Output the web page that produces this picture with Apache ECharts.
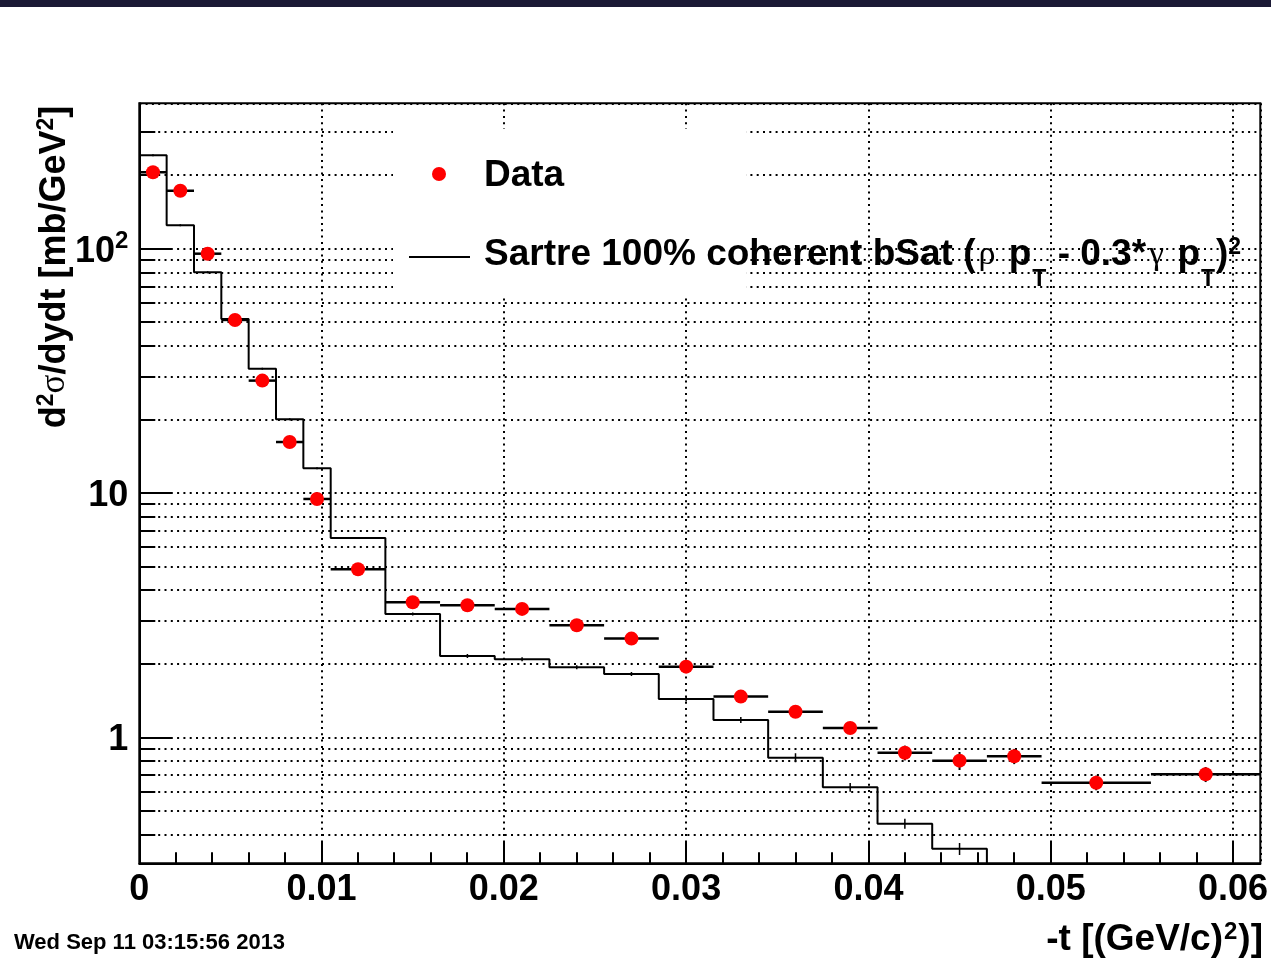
<!DOCTYPE html>
<html>
<head>
<meta charset="utf-8">
<script src="https://cdn.jsdelivr.net/npm/echarts@6/dist/echarts.min.js"></script>
<style>
  html, body { margin: 0; padding: 0; background: #fff; }
  #chart { width: 1271px; height: 958px; }
</style>
</head>
<body>
<div id="chart"></div>
<script>
// -t bin edges [(GeV/c)^2]
const binEdges = [0, 0.0015, 0.003, 0.0045, 0.006, 0.0075, 0.009, 0.0105, 0.0135, 0.0165, 0.0195,
  0.0225, 0.0255, 0.0285, 0.0315, 0.0345, 0.0375, 0.0405, 0.0435, 0.0465, 0.0495, 0.0555, 0.0615];

// measured d2sigma/dydt [mb/GeV^2] per bin
const dataValues = [206, 173, 95.6, 51.2, 28.9, 16.2, 9.47, 4.88, 3.58, 3.48, 3.36, 2.88, 2.54,
  1.95, 1.47, 1.275, 1.094, 0.866, 0.804, 0.838, 0.653, 0.707];
const dataErrors = [5.2, 4.3, 2.4, 1.3, 0.72, 0.4, 0.24, 0.12, 0.09, 0.087, 0.084, 0.072, 0.064,
  0.049, 0.06, 0.05, 0.045, 0.06, 0.068, 0.06, 0.045, 0.05];

// Sartre 100% coherent bSat prediction per bin (same binning)
const sartreValues = [242, 125, 80.2, 51.6, 32.3, 20.1, 12.65, 6.55, 3.20, 2.156, 2.09, 1.938,
  1.82, 1.438, 1.179, 0.827, 0.625, 0.444, 0.350, 0.27];
const sartreErrors = [2.3, 1.2, 0.75, 0.5, 0.3, 0.19, 0.12, 0.06, 0.045, 0.04, 0.04, 0.037,
  0.035, 0.034, 0.033, 0.035, 0.026, 0.021, 0.02, 0.02];

// minor tick positions
const xMinorTicks = [0.002, 0.004, 0.006, 0.008, 0.012, 0.014, 0.016, 0.018, 0.022, 0.024, 0.026,
  0.028, 0.032, 0.034, 0.036, 0.038, 0.042, 0.044, 0.046, 0.048, 0.052, 0.054, 0.056, 0.058];
const yMinorTicks = [0.4, 0.5, 0.6, 0.7, 0.8, 0.9, 2, 3, 4, 5, 6, 7, 8, 9,
  20, 30, 40, 50, 60, 70, 80, 90, 200, 300];

const X_MIN = 0, X_MAX = 0.0615;
const Y_MIN = 0.3055, Y_MAX = 394.5;

const FONT = '"Liberation Sans", Arial, Helvetica, sans-serif';
const GREEK = '"Liberation Serif", "DejaVu Serif", serif';

const binLo = binEdges.slice(0, -1);
const binHi = binEdges.slice(1);
const binMid = binLo.map((lo, i) => (lo + binHi[i]) / 2);

// step outline: each bin's left edge, plus the closing right edge
const sartreStep = sartreValues.map((v, i) => [binLo[i], v]);
sartreStep.push([binHi[sartreValues.length - 1], sartreValues[sartreValues.length - 1]]);

const chart = echarts.init(document.getElementById('chart'), null, { renderer: 'canvas' });

const dotted = { color: '#000', width: 2, type: [2, 4.3] };

const option = {
  backgroundColor: '#fff',
  animation: false,
  grid: {
    left: 139.3, top: 103.3, width: 1121.2, height: 760,
    show: true, borderColor: '#000', borderWidth: 2, backgroundColor: 'transparent'
  },
  xAxis: {
    type: 'value', min: X_MIN, max: X_MAX, interval: 0.01,
    axisLine: { show: true, onZero: false, lineStyle: { color: '#000', width: 2 } },
    axisTick: { show: true, inside: true, length: 22, lineStyle: { color: '#000', width: 2 } },
    axisLabel: {
      show: true, margin: 9, color: '#000', fontFamily: FONT, fontWeight: 'bold', fontSize: 36,
      showMaxLabel: false,
      formatter: v => (v === 0 ? '0' : v.toFixed(2))
    },
    splitLine: { show: true, lineStyle: dotted }
  },
  yAxis: {
    type: 'log', logBase: 10, min: Y_MIN, max: Y_MAX,
    axisLine: { show: true, onZero: false, lineStyle: { color: '#000', width: 2 } },
    axisTick: { show: true, inside: true, length: 32, lineStyle: { color: '#000', width: 2 } },
    axisLabel: {
      show: true, margin: 11, color: '#000', fontFamily: FONT, fontWeight: 'bold', fontSize: 36,
      showMinLabel: false, showMaxLabel: false,
      formatter: v => {
        const e = Math.round(Math.log10(v));
        if (e >= 2) return '{b|10}{s|' + e + '}';
        return '{b|' + Math.round(v) + '}';
      },
      rich: {
        b: { fontFamily: FONT, fontWeight: 'bold', fontSize: 36, lineHeight: 40, color: '#000', padding: [6, 0, 0, 0] },
        s: { fontFamily: FONT, fontWeight: 'bold', fontSize: 24, lineHeight: 24, color: '#000', padding: [0, 0, 16, 0] }
      }
    },
    splitLine: { show: true, lineStyle: dotted }
  },
  series: [
    {
      // dotted grid and short ticks at the log minor divisions
      type: 'custom', name: 'yMinor', z: 1, silent: true,
      data: yMinorTicks.map(v => [X_MIN, v]),
      renderItem: (params, api) => {
        const p = api.coord([X_MIN, api.value(1)]);
        const y = Math.round(p[1]);
        const cs = params.coordSys;
        return {
          type: 'group', children: [
            { type: 'line', shape: { x1: cs.x, y1: y, x2: cs.x + cs.width, y2: y },
              style: { stroke: '#000', lineWidth: 2, lineDash: [2, 4.3] } },
            { type: 'line', shape: { x1: cs.x, y1: y, x2: cs.x + 16, y2: y },
              style: { stroke: '#000', lineWidth: 2 } }
          ]
        };
      }
    },
    {
      type: 'custom', name: 'xMinor', z: 1, silent: true,
      data: xMinorTicks.map(v => [v, Y_MIN]),
      renderItem: (params, api) => {
        const p = api.coord([api.value(0), Y_MIN]);
        const x = Math.round(p[0]);
        return { type: 'line', shape: { x1: x, y1: p[1], x2: x, y2: p[1] - 11 },
          style: { stroke: '#000', lineWidth: 2 } };
      }
    },
    {
      name: 'Sartre', type: 'line', step: 'end', z: 8,
      data: sartreStep, symbol: 'none', clip: true,
      lineStyle: { color: '#000', width: 2 }
    },
    {
      // statistical error ticks of the prediction
      type: 'custom', name: 'SartreErr', z: 8, silent: true, clip: true,
      data: sartreErrors.map((e, i) => [binMid[i], sartreValues[i], e]),
      renderItem: (params, api) => {
        const x = api.value(0), v = api.value(1), e = api.value(2);
        if (v <= Y_MIN) return null;
        const lo = api.coord([x, Math.max(v - e, Y_MIN)]);
        const hi = api.coord([x, v + e]);
        return { type: 'line', shape: { x1: lo[0], y1: lo[1], x2: hi[0], y2: hi[1] },
          style: { stroke: '#000', lineWidth: 1.5 } };
      }
    },
    {
      // bin width and error bars of the data
      type: 'custom', name: 'DataErr', z: 9, silent: true,
      data: dataValues.map((v, i) => [binLo[i], binHi[i], v, dataErrors[i], binMid[i]]),
      renderItem: (params, api) => {
        const l = api.coord([api.value(0), api.value(2)]);
        const r = api.coord([api.value(1), api.value(2)]);
        const t = api.coord([api.value(4), api.value(2) + api.value(3)]);
        const b = api.coord([api.value(4), api.value(2) - api.value(3)]);
        return {
          type: 'group', children: [
            { type: 'line', shape: { x1: l[0], y1: l[1], x2: r[0], y2: r[1] }, style: { stroke: '#000', lineWidth: 2.5 } },
            { type: 'line', shape: { x1: t[0], y1: t[1], x2: b[0], y2: b[1] }, style: { stroke: '#000', lineWidth: 2 } }
          ]
        };
      }
    },
    {
      name: 'Data', type: 'scatter', z: 10,
      data: dataValues.map((v, i) => [binMid[i], v]),
      symbol: 'circle', symbolSize: 14,
      itemStyle: { color: '#ff0000', opacity: 1 }
    }
  ],
  graphic: [
    { type: 'rect', left: 0, top: 0, z: 20, shape: { width: 1271, height: 7 }, style: { fill: '#1b1a35' } },
    // legend box
    { type: 'rect', z: 5, shape: { x: 393, y: 129, width: 353, height: 166 }, style: { fill: '#fff' } },
    { type: 'circle', z: 6, shape: { cx: 439, cy: 174, r: 7 }, style: { fill: '#ff0000' } },
    { type: 'line', z: 6, shape: { x1: 409, y1: 257, x2: 470, y2: 257 }, style: { stroke: '#000', lineWidth: 2 } },
    {
      type: 'text', z: 6, x: 484, y: 176,
      style: { text: 'Data', fill: '#000', font: 'bold 37px ' + FONT, textAlign: 'left', textVerticalAlign: 'middle' }
    },
    {
      type: 'text', z: 6, x: 484, y: 255,
      style: {
        text: '{b|Sartre 100% coherent bSat (}{g|ρ}{b| p}{sub|T}{b| - 0.3*}{g|γ}{b| p}{sub|T}{b|)}{sup|2}',
        textAlign: 'left', textVerticalAlign: 'middle',
        rich: {
          b: { fontFamily: FONT, fontWeight: 'bold', fontSize: 37, lineHeight: 40, color: '#000' },
          g: { fontFamily: GREEK, fontSize: 34, lineHeight: 40, color: '#000', padding: [0, 3, 0, 3] },
          sub: { fontFamily: FONT, fontWeight: 'bold', fontSize: 23, lineHeight: 23, color: '#000', padding: [50, 1, 0, 1] },
          sup: { fontFamily: FONT, fontWeight: 'bold', fontSize: 23, lineHeight: 23, color: '#000', padding: [0, 0, 14, 0] }
        }
      }
    },
    // y axis title
    {
      type: 'text', z: 6, x: 55, y: 267, rotation: Math.PI / 2,
      style: {
        text: '{b|d}{sup|2}{g|σ}{b|/dydt [mb/GeV}{sup|2}{b|]}',
        textAlign: 'center', textVerticalAlign: 'middle',
        rich: {
          b: { fontFamily: FONT, fontWeight: 'bold', fontSize: 36, lineHeight: 40, color: '#000' },
          g: { fontFamily: GREEK, fontSize: 35, lineHeight: 40, color: '#000' },
          sup: { fontFamily: FONT, fontWeight: 'bold', fontSize: 23, lineHeight: 23, color: '#000', padding: [0, 0, 16, 0] }
        }
      }
    },
    // x axis title
    {
      type: 'text', z: 6, x: 1263, y: 940,
      style: {
        text: '{b|-t [(GeV/c)}{sup|2}{b|)]}',
        textAlign: 'right', textVerticalAlign: 'middle',
        rich: {
          b: { fontFamily: FONT, fontWeight: 'bold', fontSize: 37, lineHeight: 40, color: '#000' },
          sup: { fontFamily: FONT, fontWeight: 'bold', fontSize: 24, lineHeight: 24, color: '#000', padding: [0, 1, 16, 1] }
        }
      }
    },
    {
      type: 'text', z: 6, x: 14, y: 943,
      style: { text: 'Wed Sep 11 03:15:56 2013', fill: '#000', font: 'bold 22px ' + FONT, textAlign: 'left', textVerticalAlign: 'middle' }
    }
  ]
};

chart.setOption(option);
</script>
</body>
</html>
